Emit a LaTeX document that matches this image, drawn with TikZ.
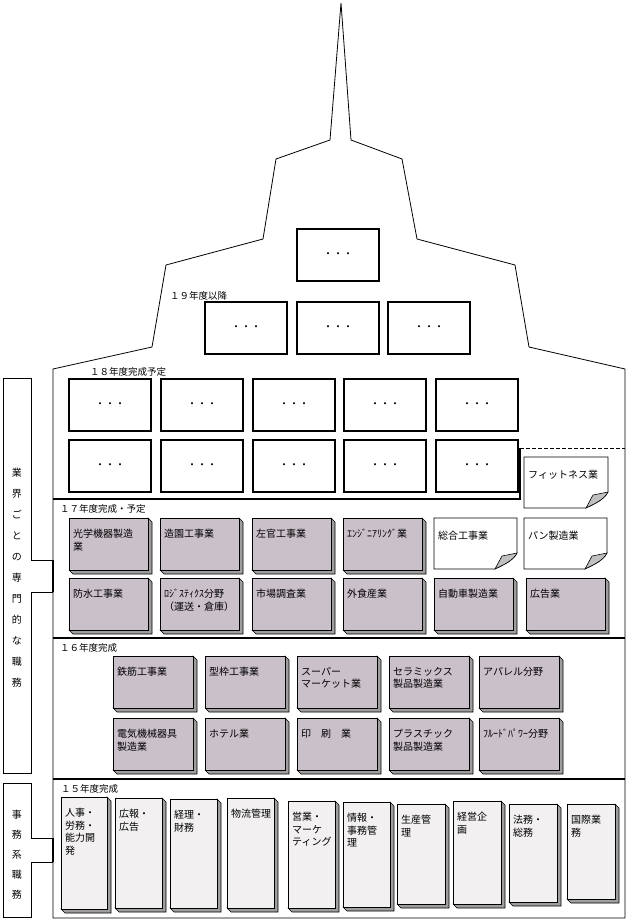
\documentclass[tikz,border=0pt]{standalone}
\usepackage{fontspec}
\setmainfont{Noto Sans CJK JP}

\definecolor{facepink}{RGB}{202,192,202}
\definecolor{facelight}{RGB}{242,240,240}
\definecolor{sidegray}{RGB}{158,158,158}
\definecolor{foldgray}{RGB}{192,192,192}

\tikzset{
  outline/.style={draw, line width=0.8pt},
  boxtext/.style={inner sep=0pt, align=left, font=\fontsize{10}{12.5}\selectfont},
  yearlabel/.style={anchor=west, inner sep=0pt, font=\fontsize{9.5}{11}\selectfont},
  plainbox/.style={draw, line width=1.5pt, fill=white},
  dotstext/.style={inner sep=0pt, font=\fontsize{10}{12}\selectfont},
  sidetext/.style={inner sep=0pt, align=center}
}

% raised box: name, x, y, width, height, face colour, text
\newcommand{\bevelbox}[7]{%
  \filldraw[fill=sidegray, line width=0.6pt] ({#2+#4},{#3}) -- ++(4,4) -- ++(0,{#5}) -- ++({-#4},0) -- ({#2},{#3+#5}) -- cycle;
  \filldraw[fill=#6, line width=0.6pt] (#2,#3) rectangle ++(#4,#5);
  \node[boxtext, anchor=north west] (#1) at ({#2+4},{#3+11}) {#7};
}

% note with curled corner: name, x, y, width, height, text
\newcommand{\notebox}[6]{%
  \filldraw[fill=white, line width=0.6pt] (#2,#3) -- ({#2+#4},#3) -- ({#2+#4},{#3+#5-16})
    .. controls ({#2+#4-4},{#3+#5-8}) and ({#2+#4-14},{#3+#5-4}) .. ({#2+#4-22},{#3+#5})
    -- (#2,{#3+#5}) -- cycle;
  \filldraw[fill=foldgray, line width=0.6pt] ({#2+#4},{#3+#5-16})
    .. controls ({#2+#4-4},{#3+#5-8}) and ({#2+#4-14},{#3+#5-4}) .. ({#2+#4-22},{#3+#5})
    -- ({#2+#4-15},{#3+#5-13}) -- cycle;
  \node[boxtext, anchor=north west] (#1) at ({#2+4},{#3+13}) {#6};
}

% empty plan box: name, x, y
\newcommand{\planbox}[3]{%
  \draw[plainbox] (#2,#3) rectangle ++(82,52);
  \node[dotstext] (#1) at ({#2+41},{#3+26}) {・・・};
}

\begin{document}
\begin{tikzpicture}[x=1pt,y=-1pt]
        \useasboundingbox (0,0) rectangle (628,921);

        % Building outline
        \draw[outline] (53,918) -- (53,369) -- (152,347) -- (166,265) -- (263,239) -- (276,159)
          -- (330,140) -- (341,3) -- (351,140) -- (402,159) -- (417,239) -- (515,265)
          -- (529,347) -- (625,369) -- (625,918) -- cycle;

        % Section boundaries
        \draw[line width=1.6pt] (53,499) -- (520,499) -- (520,448);
        \draw[dash pattern=on 4pt off 2pt] (520,448) -- (625,448);
        \draw[line width=1.6pt] (53,638) -- (625,638);
        \draw[line width=1.1pt] (53,779) -- (625,779);

        % Side labels
        \draw[outline] (31,560) -- (31,378) -- (3,378) -- (3,773) -- (31,773) -- (31,592) -- (53,592);
        \draw[outline] (31,560) -- (53,560);
        \draw[line width=1.6pt] (53,560) -- (53,592);
        \node[sidetext, font=\fontsize{10}{21}\selectfont] (trade) at (17,578)
          {業\\界\\ご\\と\\の\\専\\門\\的\\な\\職\\務};

        \draw[outline] (31,838) -- (31,783) -- (3,783) -- (3,917) -- (31,917) -- (31,862) -- (53,862);
        \draw[outline] (31,838) -- (53,838);
        \draw[line width=1.6pt] (53,838) -- (53,862);
        \node[sidetext, font=\fontsize{10}{20}\selectfont] (office) at (17,855)
          {事\\務\\系\\職\\務};

        % FY19 and later
        \planbox{top19}{297}{229}
        \node[yearlabel] (yr19) at (170,296) {１９年度以降};
        \planbox{p19a}{205}{302}
        \planbox{p19b}{297}{302}
        \planbox{p19c}{388}{302}

        % FY18
        \node[yearlabel] (yr18) at (90,372) {１８年度完成予定};
        \planbox{p18a}{69}{379}
        \planbox{p18b}{161}{379}
        \planbox{p18c}{253}{379}
        \planbox{p18d}{344}{379}
        \planbox{p18e}{436}{379}
        \planbox{p18f}{69}{440}
        \planbox{p18g}{161}{440}
        \planbox{p18h}{253}{440}
        \planbox{p18i}{344}{440}
        \planbox{p18j}{436}{440}
        \notebox{fitness}{524}{457}{84}{51}{フィットネス業}

        % FY17
        \node[yearlabel] (yr17) at (60,509) {１７年度完成・予定};
        \bevelbox{optics}{69}{518}{79}{52}{facepink}{光学機器製造\\業}
        \bevelbox{garden}{160}{518}{79}{52}{facepink}{造園工事業}
        \bevelbox{plaster}{252}{518}{79}{52}{facepink}{左官工事業}
        \bevelbox{engineer}{343}{518}{79}{52}{facepink}{ｴﾝｼﾞﾆｱﾘﾝｸﾞ業}
        \notebox{general}{434}{518}{83}{51}{総合工事業}
        \notebox{bakery}{524}{518}{83}{51}{パン製造業}
        \bevelbox{waterproof}{69}{578}{79}{52}{facepink}{防水工事業}
        \bevelbox{logistics}{160}{578}{79}{52}{facepink}{ﾛｼﾞｽﾃｨｸｽ分野\\（運送・倉庫）}
        \bevelbox{market}{252}{578}{79}{52}{facepink}{市場調査業}
        \bevelbox{dining}{343}{578}{79}{52}{facepink}{外食産業}
        \bevelbox{auto}{434}{578}{79}{52}{facepink}{自動車製造業}
        \bevelbox{advert}{526}{578}{79}{52}{facepink}{広告業}

        % FY16
        \node[yearlabel] (yr16) at (60,648) {１６年度完成};
        \bevelbox{rebar}{113}{656}{80}{52}{facepink}{鉄筋工事業}
        \bevelbox{form}{205}{656}{80}{52}{facepink}{型枠工事業}
        \bevelbox{super}{297}{656}{80}{52}{facepink}{スーパー\\マーケット業}
        \bevelbox{ceramic}{389}{656}{80}{52}{facepink}{セラミックス\\製品製造業}
        \bevelbox{apparel}{479}{656}{80}{52}{facepink}{アパレル分野}
        \bevelbox{electric}{113}{718}{80}{52}{facepink}{電気機械器具\\製造業}
        \bevelbox{hotel}{205}{718}{80}{52}{facepink}{ホテル業}
        \bevelbox{printing}{297}{718}{80}{52}{facepink}{印　刷　業}
        \bevelbox{plastic}{389}{718}{80}{52}{facepink}{プラスチック\\製品製造業}
        \bevelbox{fluid}{479}{718}{80}{52}{facepink}{ﾌﾙｰﾄﾞﾊﾟﾜｰ分野}

        % FY15
        \node[yearlabel] (yr15) at (61,789) {１５年度完成};
        \bevelbox{hr}{61}{797}{46}{112}{facelight}{人事・\\労務・\\能力開\\発}
        \bevelbox{pr}{115}{798}{47}{110}{facelight}{広報・\\広告}
        \bevelbox{finance}{170}{799}{47}{109}{facelight}{経理・\\財務}
        \bevelbox{distrib}{227}{798}{47}{110}{facelight}{物流管理}
        \bevelbox{sales}{288}{801}{47}{107}{facelight}{営業・\\マーケ\\ティング}
        \bevelbox{info}{343}{802}{47}{105}{facelight}{情報・\\事務管\\理}
        \bevelbox{product}{397}{804}{48}{100}{facelight}{生産管\\理}
        \bevelbox{planning}{453}{801}{48}{103}{facelight}{経営企\\画}
        \bevelbox{legal}{509}{804}{48}{98}{facelight}{法務・\\総務}
        \bevelbox{intl}{567}{804}{48}{95}{facelight}{国際業\\務}
\end{tikzpicture}
\end{document}
